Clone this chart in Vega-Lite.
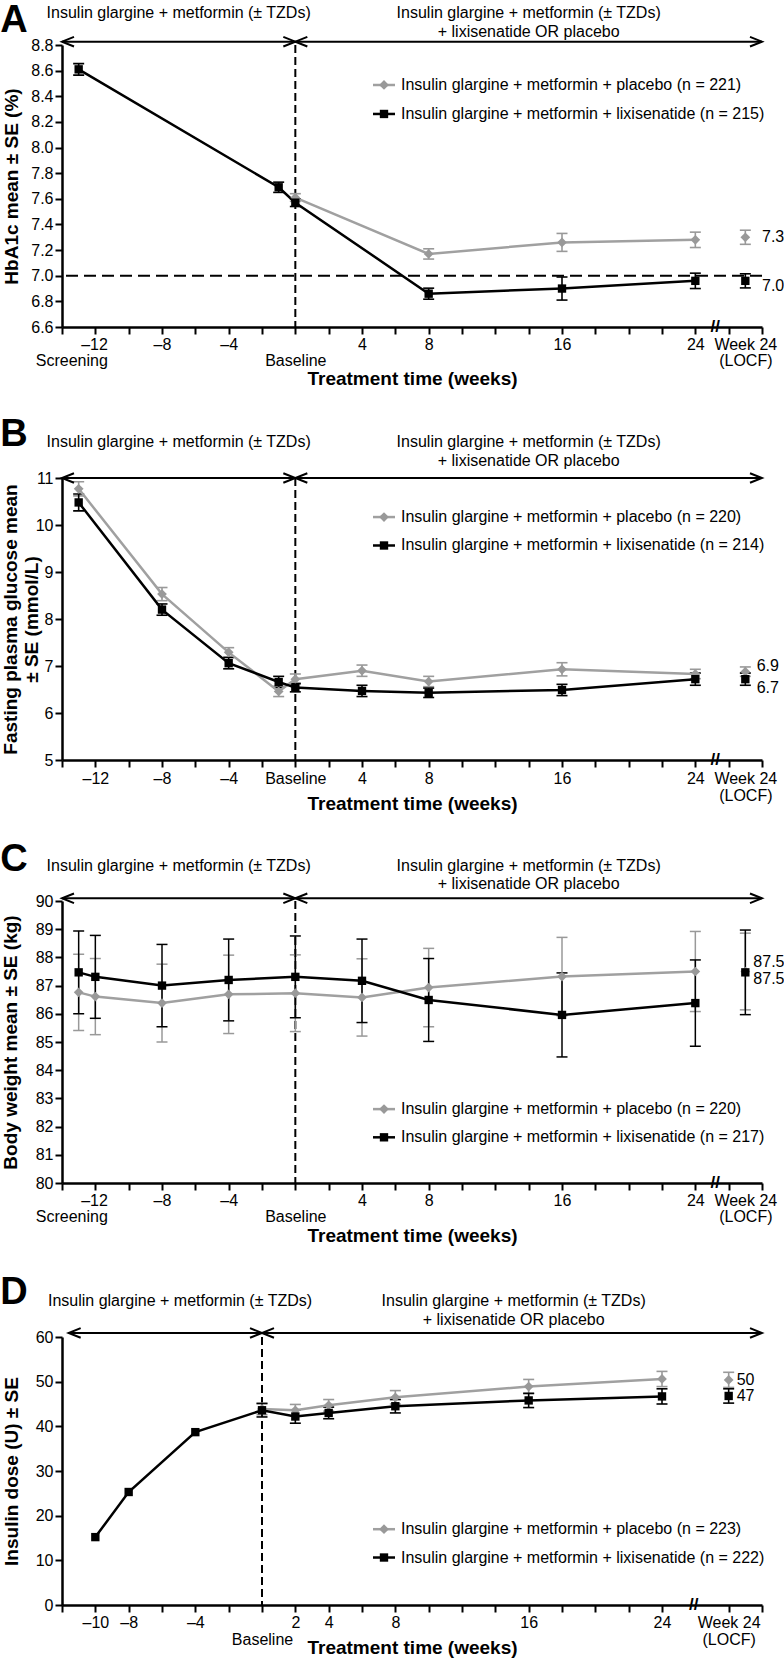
{
  "$schema": "https://vega.github.io/schema/vega-lite/v6.json",
  "padding": {"left": 0, "top": 1, "right": 0, "bottom": 0},
  "spacing": 28,
  "config": {
    "font": "Liberation Sans",
    "view": {"stroke": null},
    "axis": {"grid": false, "labelOverlap": false, "domainColor": "#000000", "domainWidth": 2.5, "tickColor": "#000000", "tickWidth": 2, "tickSize": 7, "labelFont": "Liberation Sans", "labelFontSize": 16, "labelColor": "#000000", "titleFont": "Liberation Sans", "titleFontSize": 19, "titleFontWeight": "bold", "titleColor": "#000000"},
    "text": {"font": "Liberation Sans", "fontSize": 16, "color": "#000000"},
    "point": {"opacity": 1}
  },
  "datasets": {
    "one": [{"k": 1}],
    "arrowsABC": [{"from": -14, "to": 0}, {"from": 0, "to": 28}],
    "arrowsD": [{"from": -11.6, "to": 0}, {"from": 0, "to": 30}],
    "A": [
      {"week": 0, "group": "placebo", "mean": 7.61, "lo": 7.58, "hi": 7.64},
      {"week": 8, "group": "placebo", "mean": 7.17, "lo": 7.13, "hi": 7.21},
      {"week": 16, "group": "placebo", "mean": 7.26, "lo": 7.19, "hi": 7.33},
      {"week": 24, "group": "placebo", "mean": 7.28, "lo": 7.22, "hi": 7.34},
      {"week": 27, "group": "placebo", "mean": 7.30, "lo": 7.245, "hi": 7.355},
      {"week": -13, "group": "lixisenatide", "mean": 8.61, "lo": 8.565, "hi": 8.655},
      {"week": -1, "group": "lixisenatide", "mean": 7.69, "lo": 7.65, "hi": 7.73},
      {"week": 0, "group": "lixisenatide", "mean": 7.57, "lo": 7.54, "hi": 7.60},
      {"week": 8, "group": "lixisenatide", "mean": 6.86, "lo": 6.817, "hi": 6.903},
      {"week": 16, "group": "lixisenatide", "mean": 6.90, "lo": 6.81, "hi": 6.99},
      {"week": 24, "group": "lixisenatide", "mean": 6.96, "lo": 6.90, "hi": 7.02},
      {"week": 27, "group": "lixisenatide", "mean": 6.96, "lo": 6.905, "hi": 7.015}
    ],
    "B": [
      {"week": -13, "group": "placebo", "mean": 10.77, "lo": 10.62, "hi": 10.92},
      {"week": -8, "group": "placebo", "mean": 8.53, "lo": 8.39, "hi": 8.67},
      {"week": -4, "group": "placebo", "mean": 7.29, "lo": 7.19, "hi": 7.39},
      {"week": -1, "group": "placebo", "mean": 6.46, "lo": 6.35, "hi": 6.57},
      {"week": 0, "group": "placebo", "mean": 6.72, "lo": 6.61, "hi": 6.83},
      {"week": 4, "group": "placebo", "mean": 6.90, "lo": 6.78, "hi": 7.02},
      {"week": 8, "group": "placebo", "mean": 6.67, "lo": 6.56, "hi": 6.78},
      {"week": 16, "group": "placebo", "mean": 6.93, "lo": 6.79, "hi": 7.07},
      {"week": 24, "group": "placebo", "mean": 6.83, "lo": 6.73, "hi": 6.93},
      {"week": 27, "group": "placebo", "mean": 6.88, "lo": 6.78, "hi": 6.98},
      {"week": -13, "group": "lixisenatide", "mean": 10.48, "lo": 10.30, "hi": 10.66},
      {"week": -8, "group": "lixisenatide", "mean": 8.20, "lo": 8.08, "hi": 8.32},
      {"week": -4, "group": "lixisenatide", "mean": 7.06, "lo": 6.94, "hi": 7.18},
      {"week": -1, "group": "lixisenatide", "mean": 6.66, "lo": 6.54, "hi": 6.78},
      {"week": 0, "group": "lixisenatide", "mean": 6.54, "lo": 6.45, "hi": 6.63},
      {"week": 4, "group": "lixisenatide", "mean": 6.47, "lo": 6.35, "hi": 6.59},
      {"week": 8, "group": "lixisenatide", "mean": 6.43, "lo": 6.33, "hi": 6.53},
      {"week": 16, "group": "lixisenatide", "mean": 6.49, "lo": 6.37, "hi": 6.61},
      {"week": 24, "group": "lixisenatide", "mean": 6.72, "lo": 6.59, "hi": 6.85},
      {"week": 27, "group": "lixisenatide", "mean": 6.72, "lo": 6.59, "hi": 6.85}
    ],
    "C": [
      {"week": -13, "group": "placebo", "mean": 86.76, "lo": 85.41, "hi": 88.11},
      {"week": -12, "group": "placebo", "mean": 86.61, "lo": 85.26, "hi": 87.96},
      {"week": -8, "group": "placebo", "mean": 86.38, "lo": 85.00, "hi": 87.76},
      {"week": -4, "group": "placebo", "mean": 86.69, "lo": 85.30, "hi": 88.08},
      {"week": 0, "group": "placebo", "mean": 86.73, "lo": 85.37, "hi": 88.09},
      {"week": 4, "group": "placebo", "mean": 86.58, "lo": 85.21, "hi": 87.95},
      {"week": 8, "group": "placebo", "mean": 86.93, "lo": 85.54, "hi": 88.32},
      {"week": 16, "group": "placebo", "mean": 87.32, "lo": 85.93, "hi": 88.71},
      {"week": 24, "group": "placebo", "mean": 87.50, "lo": 86.08, "hi": 88.92},
      {"week": 27, "group": "placebo", "mean": 87.50, "lo": 86.14, "hi": 88.86},
      {"week": -13, "group": "lixisenatide", "mean": 87.47, "lo": 86.00, "hi": 88.94},
      {"week": -12, "group": "lixisenatide", "mean": 87.31, "lo": 85.84, "hi": 88.78},
      {"week": -8, "group": "lixisenatide", "mean": 87.00, "lo": 85.54, "hi": 88.46},
      {"week": -4, "group": "lixisenatide", "mean": 87.20, "lo": 85.75, "hi": 88.65},
      {"week": 0, "group": "lixisenatide", "mean": 87.31, "lo": 85.86, "hi": 88.76},
      {"week": 4, "group": "lixisenatide", "mean": 87.17, "lo": 85.69, "hi": 88.65},
      {"week": 8, "group": "lixisenatide", "mean": 86.49, "lo": 85.02, "hi": 87.96},
      {"week": 16, "group": "lixisenatide", "mean": 85.96, "lo": 84.47, "hi": 87.45},
      {"week": 24, "group": "lixisenatide", "mean": 86.38, "lo": 84.85, "hi": 87.91},
      {"week": 27, "group": "lixisenatide", "mean": 87.47, "lo": 85.97, "hi": 88.97}
    ],
    "D": [
      {"week": 0, "group": "placebo", "mean": 43.9, "lo": 42.6, "hi": 45.2},
      {"week": 2, "group": "placebo", "mean": 43.6, "lo": 42.3, "hi": 44.9},
      {"week": 4, "group": "placebo", "mean": 44.7, "lo": 43.4, "hi": 46.0},
      {"week": 8, "group": "placebo", "mean": 46.5, "lo": 45.0, "hi": 48.0},
      {"week": 16, "group": "placebo", "mean": 48.9, "lo": 47.3, "hi": 50.5},
      {"week": 24, "group": "placebo", "mean": 50.6, "lo": 48.9, "hi": 52.3},
      {"week": 28, "group": "placebo", "mean": 50.4, "lo": 48.7, "hi": 52.1},
      {"week": -10, "group": "lixisenatide", "mean": 15.2, "lo": 15.2, "hi": 15.2},
      {"week": -8, "group": "lixisenatide", "mean": 25.3, "lo": 25.3, "hi": 25.3},
      {"week": -4, "group": "lixisenatide", "mean": 38.7, "lo": 38.7, "hi": 38.7},
      {"week": 0, "group": "lixisenatide", "mean": 43.6, "lo": 42.1, "hi": 45.1},
      {"week": 2, "group": "lixisenatide", "mean": 42.2, "lo": 40.7, "hi": 43.7},
      {"week": 4, "group": "lixisenatide", "mean": 43.0, "lo": 41.7, "hi": 44.3},
      {"week": 8, "group": "lixisenatide", "mean": 44.5, "lo": 43.0, "hi": 46.0},
      {"week": 16, "group": "lixisenatide", "mean": 45.8, "lo": 44.2, "hi": 47.4},
      {"week": 24, "group": "lixisenatide", "mean": 46.7, "lo": 45.0, "hi": 48.4},
      {"week": 28, "group": "lixisenatide", "mean": 46.8, "lo": 45.2, "hi": 48.4}
    ]
  },
  "vconcat": [
    {
      "width": 700, "height": 282,
      "data": {"name": "one"},
      "layer": [
        {"mark": {"type": "rule", "strokeDash": [8, 4], "strokeWidth": 2, "color": "#000000"}, "encoding": {"x": {"datum": 0}}},
        {"mark": {"type": "rule", "strokeDash": [12, 6], "strokeWidth": 2, "color": "#000000"}, "encoding": {"y": {"datum": 7.0}}},
        {"data": {"name": "A"}, "transform": [{"filter": "datum.group == 'placebo'"}], "mark": {"type": "rule", "color": "#999999", "strokeWidth": 1.6}, "encoding": {"x": {"field": "week", "type": "quantitative"}, "y": {"field": "lo", "type": "quantitative"}, "y2": {"field": "hi"}}},
        {"data": {"name": "A"}, "transform": [{"filter": "datum.group == 'placebo'"}], "mark": {"type": "tick", "orient": "horizontal", "size": 11, "thickness": 1.6, "color": "#999999", "opacity": 1}, "encoding": {"x": {"field": "week", "type": "quantitative"}, "y": {"field": "lo", "type": "quantitative"}}},
        {"data": {"name": "A"}, "transform": [{"filter": "datum.group == 'placebo'"}], "mark": {"type": "tick", "orient": "horizontal", "size": 11, "thickness": 1.6, "color": "#999999", "opacity": 1}, "encoding": {"x": {"field": "week", "type": "quantitative"}, "y": {"field": "hi", "type": "quantitative"}}},
        {"data": {"name": "A"}, "transform": [{"filter": "datum.group == 'lixisenatide'"}], "mark": {"type": "rule", "color": "#000000", "strokeWidth": 1.6}, "encoding": {"x": {"field": "week", "type": "quantitative"}, "y": {"field": "lo", "type": "quantitative"}, "y2": {"field": "hi"}}},
        {"data": {"name": "A"}, "transform": [{"filter": "datum.group == 'lixisenatide'"}], "mark": {"type": "tick", "orient": "horizontal", "size": 11, "thickness": 1.6, "color": "#000000", "opacity": 1}, "encoding": {"x": {"field": "week", "type": "quantitative"}, "y": {"field": "lo", "type": "quantitative"}}},
        {"data": {"name": "A"}, "transform": [{"filter": "datum.group == 'lixisenatide'"}], "mark": {"type": "tick", "orient": "horizontal", "size": 11, "thickness": 1.6, "color": "#000000", "opacity": 1}, "encoding": {"x": {"field": "week", "type": "quantitative"}, "y": {"field": "hi", "type": "quantitative"}}},
        {"data": {"name": "A"}, "transform": [{"filter": "datum.group == 'placebo' && datum.week <= 24"}], "mark": {"type": "line", "color": "#a0a0a0", "strokeWidth": 2.5},
          "encoding": {
            "x": {"field": "week", "type": "quantitative", "scale": {"domain": [-14, 28], "nice": false, "zero": false},
              "axis": {"title": "Treatment time (weeks)", "tickCount": 100, "format": "d", "values": [-14, -12, -10, -8, -6, -4, -2, 0, 2, 4, 6, 8, 10, 12, 14, 16, 18, 20, 22, 24, 26, 27, 28],
                "labelExpr": "datum.value == -12 ? ['–12', 'Screening'] : datum.value == -8 ? '–8' : datum.value == -4 ? '–4' : datum.value == 0 ? ['', 'Baseline'] : datum.value == 27 ? ['Week 24', '(LOCF)'] : (datum.value == 4 || datum.value == 8 || datum.value == 16 || datum.value == 24) ? datum.label : ''",
                "labelOverlap": false, "labelBound": false, "labelFlush": false, "labelBaseline": "top", "labelLineHeight": 16.5, "labelPadding": 2,
                "labelAlign": {"condition": {"test": "datum.value == -12", "value": "right"}, "value": "center"},
                "labelOffset": {"condition": {"test": "datum.value == -12", "value": 12}, "value": 0},
                "tickOpacity": {"condition": {"test": "datum.value == 27", "value": 0}, "value": 1},
                "titleY": 42}},
            "y": {"field": "mean", "type": "quantitative", "scale": {"domain": [6.6, 8.8], "nice": false, "zero": false},
              "axis": {"title": "HbA1c mean ± SE (%)", "tickCount": 100, "values": [6.6, 6.8, 7.0, 7.2, 7.4, 7.6, 7.8, 8.0, 8.2, 8.4, 8.6, 8.8], "format": ".1f", "labelOverlap": false, "labelPadding": 2, "titleX": -41, "titleBaseline": "bottom"}}
          }},
        {"data": {"name": "A"}, "transform": [{"filter": "datum.group == 'lixisenatide' && datum.week <= 24"}], "mark": {"type": "line", "color": "#000000", "strokeWidth": 2.5}, "encoding": {"x": {"field": "week", "type": "quantitative"}, "y": {"field": "mean", "type": "quantitative"}}},
        {"data": {"name": "A"}, "transform": [{"filter": "datum.group == 'placebo'"}], "mark": {"type": "point", "shape": "diamond", "filled": true, "size": 95, "color": "#999999"}, "encoding": {"x": {"field": "week", "type": "quantitative"}, "y": {"field": "mean", "type": "quantitative"}}},
        {"data": {"name": "A"}, "transform": [{"filter": "datum.group == 'lixisenatide'"}], "mark": {"type": "point", "shape": "square", "filled": true, "size": 70, "color": "#000000"}, "encoding": {"x": {"field": "week", "type": "quantitative"}, "y": {"field": "mean", "type": "quantitative"}}},
        {"data": {"name": "A"}, "transform": [{"filter": "datum.group == 'placebo' && datum.week == 27"}], "mark": {"type": "text", "align": "left", "baseline": "middle", "dy": 0}, "encoding": {"x": {"datum": 28}, "y": {"field": "mean", "type": "quantitative"}, "text": {"field": "mean", "type": "quantitative", "format": ".1f"}}},
        {"data": {"name": "A"}, "transform": [{"filter": "datum.group == 'lixisenatide' && datum.week == 27"}], "mark": {"type": "text", "align": "left", "baseline": "middle", "dy": 5}, "encoding": {"x": {"datum": 28}, "y": {"field": "mean", "type": "quantitative"}, "text": {"field": "mean", "type": "quantitative", "format": ".1f"}}},
        {"data": {"name": "arrowsABC"}, "mark": {"type": "rule", "strokeWidth": 2, "color": "#000000"}, "encoding": {"x": {"field": "from", "type": "quantitative"}, "x2": {"field": "to"}, "y": {"datum": 8.826}}},
        {"data": {"name": "arrowsABC"}, "mark": {"type": "point", "shape": "M2,-0.8L0,0L2,0.8", "size": 144, "filled": false, "strokeWidth": 2, "color": "#000000"}, "encoding": {"x": {"field": "from", "type": "quantitative"}, "y": {"datum": 8.826}}},
        {"data": {"name": "arrowsABC"}, "mark": {"type": "point", "shape": "M-2,-0.8L0,0L-2,0.8", "size": 144, "filled": false, "strokeWidth": 2, "color": "#000000"}, "encoding": {"x": {"field": "to", "type": "quantitative"}, "y": {"datum": 8.826}}},
        {"mark": {"type": "text", "text": "Insulin glargine + metformin (± TZDs)", "align": "center", "baseline": "alphabetic"}, "encoding": {"x": {"datum": -7}, "y": {"datum": 9.008}}},
        {"mark": {"type": "text", "text": "Insulin glargine + metformin (± TZDs)", "align": "center", "baseline": "alphabetic"}, "encoding": {"x": {"datum": 14}, "y": {"datum": 9.008}}},
        {"mark": {"type": "text", "text": "+ lixisenatide OR placebo", "align": "center", "baseline": "alphabetic"}, "encoding": {"x": {"datum": 14}, "y": {"datum": 8.865}}},
        {"mark": {"type": "text", "text": "A", "fontSize": 38, "fontWeight": "bold", "align": "center", "baseline": "alphabetic"}, "encoding": {"x": {"datum": -16.88}, "y": {"datum": 8.904}}},
        {"mark": {"type": "text", "text": "//", "fontSize": 17, "fontWeight": "bold", "align": "center", "baseline": "middle"}, "encoding": {"x": {"datum": 25.2}, "y": {"datum": 6.6}}},
        {"mark": {"type": "rule", "color": "#a0a0a0", "strokeWidth": 2.5}, "encoding": {"x": {"datum": 4.66}, "x2": {"datum": 5.98}, "y": {"datum": 8.488}}},
        {"mark": {"type": "point", "shape": "diamond", "filled": true, "size": 95, "color": "#999999"}, "encoding": {"x": {"datum": 5.32}, "y": {"datum": 8.488}}},
        {"mark": {"type": "text", "text": "Insulin glargine + metformin + placebo (n = 221)", "align": "left", "baseline": "middle"}, "encoding": {"x": {"datum": 6.34}, "y": {"datum": 8.488}}},
        {"mark": {"type": "rule", "color": "#000000", "strokeWidth": 2.5}, "encoding": {"x": {"datum": 4.66}, "x2": {"datum": 5.98}, "y": {"datum": 8.262}}},
        {"mark": {"type": "point", "shape": "square", "filled": true, "size": 70, "color": "#000000"}, "encoding": {"x": {"datum": 5.32}, "y": {"datum": 8.262}}},
        {"mark": {"type": "text", "text": "Insulin glargine + metformin + lixisenatide (n = 215)", "align": "left", "baseline": "middle"}, "encoding": {"x": {"datum": 6.34}, "y": {"datum": 8.262}}}
      ]
    },
    {
      "width": 700, "height": 282,
      "data": {"name": "one"},
      "layer": [
        {"mark": {"type": "rule", "strokeDash": [8, 4], "strokeWidth": 2, "color": "#000000"}, "encoding": {"x": {"datum": 0}}},
        {"data": {"name": "B"}, "transform": [{"filter": "datum.group == 'placebo'"}], "mark": {"type": "rule", "color": "#999999", "strokeWidth": 1.6}, "encoding": {"x": {"field": "week", "type": "quantitative"}, "y": {"field": "lo", "type": "quantitative"}, "y2": {"field": "hi"}}},
        {"data": {"name": "B"}, "transform": [{"filter": "datum.group == 'placebo'"}], "mark": {"type": "tick", "orient": "horizontal", "size": 11, "thickness": 1.6, "color": "#999999", "opacity": 1}, "encoding": {"x": {"field": "week", "type": "quantitative"}, "y": {"field": "lo", "type": "quantitative"}}},
        {"data": {"name": "B"}, "transform": [{"filter": "datum.group == 'placebo'"}], "mark": {"type": "tick", "orient": "horizontal", "size": 11, "thickness": 1.6, "color": "#999999", "opacity": 1}, "encoding": {"x": {"field": "week", "type": "quantitative"}, "y": {"field": "hi", "type": "quantitative"}}},
        {"data": {"name": "B"}, "transform": [{"filter": "datum.group == 'lixisenatide'"}], "mark": {"type": "rule", "color": "#000000", "strokeWidth": 1.6}, "encoding": {"x": {"field": "week", "type": "quantitative"}, "y": {"field": "lo", "type": "quantitative"}, "y2": {"field": "hi"}}},
        {"data": {"name": "B"}, "transform": [{"filter": "datum.group == 'lixisenatide'"}], "mark": {"type": "tick", "orient": "horizontal", "size": 11, "thickness": 1.6, "color": "#000000", "opacity": 1}, "encoding": {"x": {"field": "week", "type": "quantitative"}, "y": {"field": "lo", "type": "quantitative"}}},
        {"data": {"name": "B"}, "transform": [{"filter": "datum.group == 'lixisenatide'"}], "mark": {"type": "tick", "orient": "horizontal", "size": 11, "thickness": 1.6, "color": "#000000", "opacity": 1}, "encoding": {"x": {"field": "week", "type": "quantitative"}, "y": {"field": "hi", "type": "quantitative"}}},
        {"data": {"name": "B"}, "transform": [{"filter": "datum.group == 'placebo' && datum.week <= 24"}], "mark": {"type": "line", "color": "#a0a0a0", "strokeWidth": 2.5},
          "encoding": {
            "x": {"field": "week", "type": "quantitative", "scale": {"domain": [-14, 28], "nice": false, "zero": false},
              "axis": {"title": "Treatment time (weeks)", "tickCount": 100, "format": "d", "values": [-14, -12, -10, -8, -6, -4, -2, 0, 2, 4, 6, 8, 10, 12, 14, 16, 18, 20, 22, 24, 26, 27, 28],
                "labelExpr": "datum.value == -12 ? '–12' : datum.value == -8 ? '–8' : datum.value == -4 ? '–4' : datum.value == 0 ? 'Baseline' : datum.value == 27 ? ['Week 24', '(LOCF)'] : (datum.value == 4 || datum.value == 8 || datum.value == 16 || datum.value == 24) ? datum.label : ''",
                "labelOverlap": false, "labelBound": false, "labelFlush": false, "labelBaseline": "top", "labelLineHeight": 17.5, "labelPadding": 3,
                "tickOpacity": {"condition": {"test": "datum.value == 27", "value": 0}, "value": 1},
                "titleY": 34}},
            "y": {"field": "mean", "type": "quantitative", "scale": {"domain": [5, 11], "nice": false, "zero": false},
              "axis": {"title": ["Fasting plasma glucose mean", "± SE (mmol/L)"], "tickCount": 100, "format": "d", "values": [5, 6, 7, 8, 9, 10, 11], "labelOverlap": false, "labelPadding": 2, "titleX": -45.5, "titleBaseline": "alphabetic", "titleLineHeight": 21}}
          }},
        {"data": {"name": "B"}, "transform": [{"filter": "datum.group == 'lixisenatide' && datum.week <= 24"}], "mark": {"type": "line", "color": "#000000", "strokeWidth": 2.5}, "encoding": {"x": {"field": "week", "type": "quantitative"}, "y": {"field": "mean", "type": "quantitative"}}},
        {"data": {"name": "B"}, "transform": [{"filter": "datum.group == 'placebo'"}], "mark": {"type": "point", "shape": "diamond", "filled": true, "size": 95, "color": "#999999"}, "encoding": {"x": {"field": "week", "type": "quantitative"}, "y": {"field": "mean", "type": "quantitative"}}},
        {"data": {"name": "B"}, "transform": [{"filter": "datum.group == 'lixisenatide'"}], "mark": {"type": "point", "shape": "square", "filled": true, "size": 70, "color": "#000000"}, "encoding": {"x": {"field": "week", "type": "quantitative"}, "y": {"field": "mean", "type": "quantitative"}}},
        {"data": {"name": "B"}, "transform": [{"filter": "datum.group == 'placebo' && datum.week == 27"}], "mark": {"type": "text", "align": "left", "baseline": "middle", "dy": -6}, "encoding": {"x": {"datum": 27.68}, "y": {"field": "mean", "type": "quantitative"}, "text": {"field": "mean", "type": "quantitative", "format": ".1f"}}},
        {"data": {"name": "B"}, "transform": [{"filter": "datum.group == 'lixisenatide' && datum.week == 27"}], "mark": {"type": "text", "align": "left", "baseline": "middle", "dy": 9}, "encoding": {"x": {"datum": 27.68}, "y": {"field": "mean", "type": "quantitative"}, "text": {"field": "mean", "type": "quantitative", "format": ".1f"}}},
        {"data": {"name": "arrowsABC"}, "mark": {"type": "rule", "strokeWidth": 2, "color": "#000000"}, "encoding": {"x": {"field": "from", "type": "quantitative"}, "x2": {"field": "to"}, "y": {"datum": 11.0}}},
        {"data": {"name": "arrowsABC"}, "mark": {"type": "point", "shape": "M2,-0.8L0,0L2,0.8", "size": 144, "filled": false, "strokeWidth": 2, "color": "#000000"}, "encoding": {"x": {"field": "from", "type": "quantitative"}, "y": {"datum": 11.0}}},
        {"data": {"name": "arrowsABC"}, "mark": {"type": "point", "shape": "M-2,-0.8L0,0L-2,0.8", "size": 144, "filled": false, "strokeWidth": 2, "color": "#000000"}, "encoding": {"x": {"field": "to", "type": "quantitative"}, "y": {"datum": 11.0}}},
        {"mark": {"type": "text", "text": "Insulin glargine + metformin (± TZDs)", "align": "center", "baseline": "alphabetic"}, "encoding": {"x": {"datum": -7}, "y": {"datum": 11.66}}},
        {"mark": {"type": "text", "text": "Insulin glargine + metformin (± TZDs)", "align": "center", "baseline": "alphabetic"}, "encoding": {"x": {"datum": 14}, "y": {"datum": 11.66}}},
        {"mark": {"type": "text", "text": "+ lixisenatide OR placebo", "align": "center", "baseline": "alphabetic"}, "encoding": {"x": {"datum": 14}, "y": {"datum": 11.247}}},
        {"mark": {"type": "text", "text": "B", "fontSize": 38, "fontWeight": "bold", "align": "center", "baseline": "alphabetic"}, "encoding": {"x": {"datum": -16.88}, "y": {"datum": 11.673}}},
        {"mark": {"type": "text", "text": "//", "fontSize": 17, "fontWeight": "bold", "align": "center", "baseline": "middle"}, "encoding": {"x": {"datum": 25.2}, "y": {"datum": 5}}},
        {"mark": {"type": "rule", "color": "#a0a0a0", "strokeWidth": 2.5}, "encoding": {"x": {"datum": 4.66}, "x2": {"datum": 5.98}, "y": {"datum": 10.169}}},
        {"mark": {"type": "point", "shape": "diamond", "filled": true, "size": 95, "color": "#999999"}, "encoding": {"x": {"datum": 5.32}, "y": {"datum": 10.169}}},
        {"mark": {"type": "text", "text": "Insulin glargine + metformin + placebo (n = 220)", "align": "left", "baseline": "middle"}, "encoding": {"x": {"datum": 6.34}, "y": {"datum": 10.169}}},
        {"mark": {"type": "rule", "color": "#000000", "strokeWidth": 2.5}, "encoding": {"x": {"datum": 4.66}, "x2": {"datum": 5.98}, "y": {"datum": 9.564}}},
        {"mark": {"type": "point", "shape": "square", "filled": true, "size": 70, "color": "#000000"}, "encoding": {"x": {"datum": 5.32}, "y": {"datum": 9.564}}},
        {"mark": {"type": "text", "text": "Insulin glargine + metformin + lixisenatide (n = 214)", "align": "left", "baseline": "middle"}, "encoding": {"x": {"datum": 6.34}, "y": {"datum": 9.564}}}
      ]
    },
    {
      "width": 700, "height": 282,
      "data": {"name": "one"},
      "layer": [
        {"mark": {"type": "rule", "strokeDash": [8, 4], "strokeWidth": 2, "color": "#000000"}, "encoding": {"x": {"datum": 0}}},
        {"data": {"name": "C"}, "transform": [{"filter": "datum.group == 'placebo'"}], "mark": {"type": "rule", "color": "#999999", "strokeWidth": 1.5}, "encoding": {"x": {"field": "week", "type": "quantitative"}, "y": {"field": "lo", "type": "quantitative"}, "y2": {"field": "hi"}}},
        {"data": {"name": "C"}, "transform": [{"filter": "datum.group == 'placebo'"}], "mark": {"type": "tick", "orient": "horizontal", "size": 11, "thickness": 1.5, "color": "#999999", "opacity": 1}, "encoding": {"x": {"field": "week", "type": "quantitative"}, "y": {"field": "lo", "type": "quantitative"}}},
        {"data": {"name": "C"}, "transform": [{"filter": "datum.group == 'placebo'"}], "mark": {"type": "tick", "orient": "horizontal", "size": 11, "thickness": 1.5, "color": "#999999", "opacity": 1}, "encoding": {"x": {"field": "week", "type": "quantitative"}, "y": {"field": "hi", "type": "quantitative"}}},
        {"data": {"name": "C"}, "transform": [{"filter": "datum.group == 'lixisenatide'"}], "mark": {"type": "rule", "color": "#000000", "strokeWidth": 1.5}, "encoding": {"x": {"field": "week", "type": "quantitative"}, "y": {"field": "lo", "type": "quantitative"}, "y2": {"field": "hi"}}},
        {"data": {"name": "C"}, "transform": [{"filter": "datum.group == 'lixisenatide'"}], "mark": {"type": "tick", "orient": "horizontal", "size": 11, "thickness": 1.5, "color": "#000000", "opacity": 1}, "encoding": {"x": {"field": "week", "type": "quantitative"}, "y": {"field": "lo", "type": "quantitative"}}},
        {"data": {"name": "C"}, "transform": [{"filter": "datum.group == 'lixisenatide'"}], "mark": {"type": "tick", "orient": "horizontal", "size": 11, "thickness": 1.5, "color": "#000000", "opacity": 1}, "encoding": {"x": {"field": "week", "type": "quantitative"}, "y": {"field": "hi", "type": "quantitative"}}},
        {"data": {"name": "C"}, "transform": [{"filter": "datum.group == 'placebo' && datum.week <= 24"}], "mark": {"type": "line", "color": "#a0a0a0", "strokeWidth": 2.5},
          "encoding": {
            "x": {"field": "week", "type": "quantitative", "scale": {"domain": [-14, 28], "nice": false, "zero": false},
              "axis": {"title": "Treatment time (weeks)", "tickCount": 100, "format": "d", "values": [-14, -12, -10, -8, -6, -4, -2, 0, 2, 4, 6, 8, 10, 12, 14, 16, 18, 20, 22, 24, 26, 27, 28],
                "labelExpr": "datum.value == -12 ? ['–12', 'Screening'] : datum.value == -8 ? '–8' : datum.value == -4 ? '–4' : datum.value == 0 ? ['', 'Baseline'] : datum.value == 27 ? ['Week 24', '(LOCF)'] : (datum.value == 4 || datum.value == 8 || datum.value == 16 || datum.value == 24) ? datum.label : ''",
                "labelOverlap": false, "labelBound": false, "labelFlush": false, "labelBaseline": "top", "labelLineHeight": 16.5, "labelPadding": 2,
                "labelAlign": {"condition": {"test": "datum.value == -12", "value": "right"}, "value": "center"},
                "labelOffset": {"condition": {"test": "datum.value == -12", "value": 12}, "value": 0},
                "tickOpacity": {"condition": {"test": "datum.value == 27", "value": 0}, "value": 1},
                "titleY": 43}},
            "y": {"field": "mean", "type": "quantitative", "scale": {"domain": [80, 90], "nice": false, "zero": false},
              "axis": {"title": "Body weight mean ± SE (kg)", "tickCount": 100, "format": "d", "values": [80, 81, 82, 83, 84, 85, 86, 87, 88, 89, 90], "labelOverlap": false, "labelPadding": 2, "titleX": -42, "titleBaseline": "bottom"}}
          }},
        {"data": {"name": "C"}, "transform": [{"filter": "datum.group == 'lixisenatide' && datum.week <= 24"}], "mark": {"type": "line", "color": "#000000", "strokeWidth": 2.5}, "encoding": {"x": {"field": "week", "type": "quantitative"}, "y": {"field": "mean", "type": "quantitative"}}},
        {"data": {"name": "C"}, "transform": [{"filter": "datum.group == 'placebo'"}], "mark": {"type": "point", "shape": "diamond", "filled": true, "size": 95, "color": "#999999"}, "encoding": {"x": {"field": "week", "type": "quantitative"}, "y": {"field": "mean", "type": "quantitative"}}},
        {"data": {"name": "C"}, "transform": [{"filter": "datum.group == 'lixisenatide'"}], "mark": {"type": "point", "shape": "square", "filled": true, "size": 70, "color": "#000000"}, "encoding": {"x": {"field": "week", "type": "quantitative"}, "y": {"field": "mean", "type": "quantitative"}}},
        {"data": {"name": "C"}, "transform": [{"filter": "datum.group == 'placebo' && datum.week == 27"}], "mark": {"type": "text", "align": "left", "baseline": "middle", "dy": -10}, "encoding": {"x": {"datum": 27.48}, "y": {"field": "mean", "type": "quantitative"}, "text": {"field": "mean", "type": "quantitative", "format": ".1f"}}},
        {"data": {"name": "C"}, "transform": [{"filter": "datum.group == 'lixisenatide' && datum.week == 27"}], "mark": {"type": "text", "align": "left", "baseline": "middle", "dy": 7}, "encoding": {"x": {"datum": 27.48}, "y": {"field": "mean", "type": "quantitative"}, "text": {"field": "mean", "type": "quantitative", "format": ".1f"}}},
        {"data": {"name": "arrowsABC"}, "mark": {"type": "rule", "strokeWidth": 2, "color": "#000000"}, "encoding": {"x": {"field": "from", "type": "quantitative"}, "x2": {"field": "to"}, "y": {"datum": 90.096}}},
        {"data": {"name": "arrowsABC"}, "mark": {"type": "point", "shape": "M2,-0.8L0,0L2,0.8", "size": 144, "filled": false, "strokeWidth": 2, "color": "#000000"}, "encoding": {"x": {"field": "from", "type": "quantitative"}, "y": {"datum": 90.096}}},
        {"data": {"name": "arrowsABC"}, "mark": {"type": "point", "shape": "M-2,-0.8L0,0L-2,0.8", "size": 144, "filled": false, "strokeWidth": 2, "color": "#000000"}, "encoding": {"x": {"field": "to", "type": "quantitative"}, "y": {"datum": 90.096}}},
        {"mark": {"type": "text", "text": "Insulin glargine + metformin (± TZDs)", "align": "center", "baseline": "alphabetic"}, "encoding": {"x": {"datum": -7}, "y": {"datum": 91.05}}},
        {"mark": {"type": "text", "text": "Insulin glargine + metformin (± TZDs)", "align": "center", "baseline": "alphabetic"}, "encoding": {"x": {"datum": 14}, "y": {"datum": 91.05}}},
        {"mark": {"type": "text", "text": "+ lixisenatide OR placebo", "align": "center", "baseline": "alphabetic"}, "encoding": {"x": {"datum": 14}, "y": {"datum": 90.425}}},
        {"mark": {"type": "text", "text": "C", "fontSize": 38, "fontWeight": "bold", "align": "center", "baseline": "alphabetic"}, "encoding": {"x": {"datum": -16.88}, "y": {"datum": 91.063}}},
        {"mark": {"type": "text", "text": "//", "fontSize": 17, "fontWeight": "bold", "align": "center", "baseline": "middle"}, "encoding": {"x": {"datum": 25.2}, "y": {"datum": 80}}},
        {"mark": {"type": "rule", "color": "#a0a0a0", "strokeWidth": 2.5}, "encoding": {"x": {"datum": 4.66}, "x2": {"datum": 5.98}, "y": {"datum": 82.62}}},
        {"mark": {"type": "point", "shape": "diamond", "filled": true, "size": 95, "color": "#999999"}, "encoding": {"x": {"datum": 5.32}, "y": {"datum": 82.62}}},
        {"mark": {"type": "text", "text": "Insulin glargine + metformin + placebo (n = 220)", "align": "left", "baseline": "middle"}, "encoding": {"x": {"datum": 6.34}, "y": {"datum": 82.62}}},
        {"mark": {"type": "rule", "color": "#000000", "strokeWidth": 2.5}, "encoding": {"x": {"datum": 4.66}, "x2": {"datum": 5.98}, "y": {"datum": 81.62}}},
        {"mark": {"type": "point", "shape": "square", "filled": true, "size": 70, "color": "#000000"}, "encoding": {"x": {"datum": 5.32}, "y": {"datum": 81.62}}},
        {"mark": {"type": "text", "text": "Insulin glargine + metformin + lixisenatide (n = 217)", "align": "left", "baseline": "middle"}, "encoding": {"x": {"datum": 6.34}, "y": {"datum": 81.62}}}
      ]
    },
    {
      "width": 700, "height": 268,
      "data": {"name": "one"},
      "layer": [
        {"mark": {"type": "rule", "strokeDash": [8, 4], "strokeWidth": 2, "color": "#000000"}, "encoding": {"x": {"datum": 0}}},
        {"data": {"name": "D"}, "transform": [{"filter": "datum.group == 'placebo'"}], "mark": {"type": "rule", "color": "#999999", "strokeWidth": 1.6}, "encoding": {"x": {"field": "week", "type": "quantitative"}, "y": {"field": "lo", "type": "quantitative"}, "y2": {"field": "hi"}}},
        {"data": {"name": "D"}, "transform": [{"filter": "datum.group == 'placebo'"}], "mark": {"type": "tick", "orient": "horizontal", "size": 11, "thickness": 1.6, "color": "#999999", "opacity": 1}, "encoding": {"x": {"field": "week", "type": "quantitative"}, "y": {"field": "lo", "type": "quantitative"}}},
        {"data": {"name": "D"}, "transform": [{"filter": "datum.group == 'placebo'"}], "mark": {"type": "tick", "orient": "horizontal", "size": 11, "thickness": 1.6, "color": "#999999", "opacity": 1}, "encoding": {"x": {"field": "week", "type": "quantitative"}, "y": {"field": "hi", "type": "quantitative"}}},
        {"data": {"name": "D"}, "transform": [{"filter": "datum.group == 'lixisenatide' && datum.week >= 0"}], "mark": {"type": "rule", "color": "#000000", "strokeWidth": 1.6}, "encoding": {"x": {"field": "week", "type": "quantitative"}, "y": {"field": "lo", "type": "quantitative"}, "y2": {"field": "hi"}}},
        {"data": {"name": "D"}, "transform": [{"filter": "datum.group == 'lixisenatide' && datum.week >= 0"}], "mark": {"type": "tick", "orient": "horizontal", "size": 11, "thickness": 1.6, "color": "#000000", "opacity": 1}, "encoding": {"x": {"field": "week", "type": "quantitative"}, "y": {"field": "lo", "type": "quantitative"}}},
        {"data": {"name": "D"}, "transform": [{"filter": "datum.group == 'lixisenatide' && datum.week >= 0"}], "mark": {"type": "tick", "orient": "horizontal", "size": 11, "thickness": 1.6, "color": "#000000", "opacity": 1}, "encoding": {"x": {"field": "week", "type": "quantitative"}, "y": {"field": "hi", "type": "quantitative"}}},
        {"data": {"name": "D"}, "transform": [{"filter": "datum.group == 'placebo' && datum.week <= 24"}], "mark": {"type": "line", "color": "#a0a0a0", "strokeWidth": 2.5},
          "encoding": {
            "x": {"field": "week", "type": "quantitative", "scale": {"domain": [-12, 30], "nice": false, "zero": false},
              "axis": {"title": "Treatment time (weeks)", "tickCount": 100, "format": "d", "values": [-12, -10, -8, -6, -4, -2, 0, 2, 4, 6, 8, 10, 12, 14, 16, 18, 20, 22, 24, 28, 30],
                "labelExpr": "datum.value == -10 ? '–10' : datum.value == -8 ? '–8' : datum.value == -4 ? '–4' : datum.value == 0 ? ['', 'Baseline'] : datum.value == 28 ? ['Week 24', '(LOCF)'] : (datum.value == 2 || datum.value == 4 || datum.value == 8 || datum.value == 16 || datum.value == 24) ? datum.label : ''",
                "labelOverlap": false, "labelBound": false, "labelFlush": false, "labelBaseline": "top", "labelLineHeight": 17, "labelPadding": 2,
                "titleY": 33.5}},
            "y": {"field": "mean", "type": "quantitative", "scale": {"domain": [0, 60], "nice": false, "zero": false},
              "axis": {"title": "Insulin dose (U) ± SE", "tickCount": 100, "format": "d", "values": [0, 10, 20, 30, 40, 50, 60], "labelOverlap": false, "labelPadding": 2, "titleX": -41, "titleBaseline": "bottom"}}
          }},
        {"data": {"name": "D"}, "transform": [{"filter": "datum.group == 'lixisenatide' && datum.week <= 24"}], "mark": {"type": "line", "color": "#000000", "strokeWidth": 2.5}, "encoding": {"x": {"field": "week", "type": "quantitative"}, "y": {"field": "mean", "type": "quantitative"}}},
        {"data": {"name": "D"}, "transform": [{"filter": "datum.group == 'placebo'"}], "mark": {"type": "point", "shape": "diamond", "filled": true, "size": 95, "color": "#999999"}, "encoding": {"x": {"field": "week", "type": "quantitative"}, "y": {"field": "mean", "type": "quantitative"}}},
        {"data": {"name": "D"}, "transform": [{"filter": "datum.group == 'lixisenatide'"}], "mark": {"type": "point", "shape": "square", "filled": true, "size": 70, "color": "#000000"}, "encoding": {"x": {"field": "week", "type": "quantitative"}, "y": {"field": "mean", "type": "quantitative"}}},
        {"data": {"name": "D"}, "transform": [{"filter": "datum.group == 'placebo' && datum.week == 28"}], "mark": {"type": "text", "align": "left", "baseline": "middle", "dy": 0}, "encoding": {"x": {"datum": 28.48}, "y": {"field": "mean", "type": "quantitative"}, "text": {"field": "mean", "type": "quantitative", "format": ".0f"}}},
        {"data": {"name": "D"}, "transform": [{"filter": "datum.group == 'lixisenatide' && datum.week == 28"}], "mark": {"type": "text", "align": "left", "baseline": "middle", "dy": 0}, "encoding": {"x": {"datum": 28.48}, "y": {"field": "mean", "type": "quantitative"}, "text": {"field": "mean", "type": "quantitative", "format": ".0f"}}},
        {"data": {"name": "arrowsD"}, "mark": {"type": "rule", "strokeWidth": 2, "color": "#000000"}, "encoding": {"x": {"field": "from", "type": "quantitative"}, "x2": {"field": "to"}, "y": {"datum": 60.9}}},
        {"data": {"name": "arrowsD"}, "mark": {"type": "point", "shape": "M2,-0.8L0,0L2,0.8", "size": 144, "filled": false, "strokeWidth": 2, "color": "#000000"}, "encoding": {"x": {"field": "from", "type": "quantitative"}, "y": {"datum": 60.9}}},
        {"data": {"name": "arrowsD"}, "mark": {"type": "point", "shape": "M-2,-0.8L0,0L-2,0.8", "size": 144, "filled": false, "strokeWidth": 2, "color": "#000000"}, "encoding": {"x": {"field": "to", "type": "quantitative"}, "y": {"datum": 60.9}}},
        {"mark": {"type": "text", "text": "Insulin glargine + metformin (± TZDs)", "align": "center", "baseline": "alphabetic"}, "encoding": {"x": {"datum": -4.92}, "y": {"datum": 66.88}}},
        {"mark": {"type": "text", "text": "Insulin glargine + metformin (± TZDs)", "align": "center", "baseline": "alphabetic"}, "encoding": {"x": {"datum": 15.1}, "y": {"datum": 66.88}}},
        {"mark": {"type": "text", "text": "+ lixisenatide OR placebo", "align": "center", "baseline": "alphabetic"}, "encoding": {"x": {"datum": 15.1}, "y": {"datum": 62.76}}},
        {"mark": {"type": "text", "text": "D", "fontSize": 38, "fontWeight": "bold", "align": "center", "baseline": "alphabetic"}, "encoding": {"x": {"datum": -14.88}, "y": {"datum": 67.4}}},
        {"mark": {"type": "text", "text": "//", "fontSize": 17, "fontWeight": "bold", "align": "center", "baseline": "middle"}, "encoding": {"x": {"datum": 25.9}, "y": {"datum": 0}}},
        {"mark": {"type": "rule", "color": "#a0a0a0", "strokeWidth": 2.5}, "encoding": {"x": {"datum": 6.66}, "x2": {"datum": 7.98}, "y": {"datum": 16.97}}},
        {"mark": {"type": "point", "shape": "diamond", "filled": true, "size": 95, "color": "#999999"}, "encoding": {"x": {"datum": 7.32}, "y": {"datum": 16.97}}},
        {"mark": {"type": "text", "text": "Insulin glargine + metformin + placebo (n = 223)", "align": "left", "baseline": "middle"}, "encoding": {"x": {"datum": 8.34}, "y": {"datum": 16.97}}},
        {"mark": {"type": "rule", "color": "#000000", "strokeWidth": 2.5}, "encoding": {"x": {"datum": 6.66}, "x2": {"datum": 7.98}, "y": {"datum": 10.63}}},
        {"mark": {"type": "point", "shape": "square", "filled": true, "size": 70, "color": "#000000"}, "encoding": {"x": {"datum": 7.32}, "y": {"datum": 10.63}}},
        {"mark": {"type": "text", "text": "Insulin glargine + metformin + lixisenatide (n = 222)", "align": "left", "baseline": "middle"}, "encoding": {"x": {"datum": 8.34}, "y": {"datum": 10.63}}}
      ]
    }
  ]
}
